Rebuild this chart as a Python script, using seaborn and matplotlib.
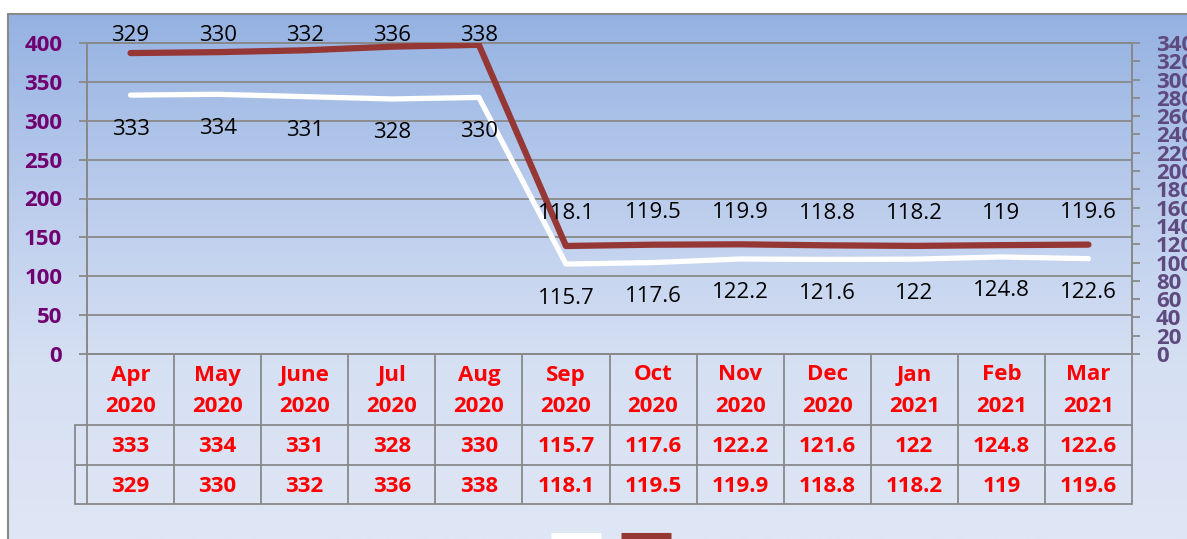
import numpy as np
import pandas as pd
import matplotlib
matplotlib.use("Agg")
import matplotlib.pyplot as plt
import seaborn as sns
from matplotlib.lines import Line2D
from matplotlib.colors import LinearSegmentedColormap

# ---------------- data ----------------
categories = ["Apr 2020", "May 2020", "June 2020", "Jul 2020", "Aug 2020", "Sep 2020",
              "Oct 2020", "Nov 2020", "Dec 2020", "Jan 2021", "Feb 2021", "Mar 2021"]
series_white = [333, 334, 331, 328, 330, 115.7, 117.6, 122.2, 121.6, 122, 124.8, 122.6]
series_red = [329, 330, 332, 336, 338, 118.1, 119.5, 119.9, 118.8, 118.2, 119, 119.6]
left_ticks = list(range(0, 401, 50))
right_ticks = list(range(0, 341, 20))

# ---------------- style ----------------
sns.set_theme(style="white")
plt.rcParams['font.family'] = ['Open Sans', 'DejaVu Sans']

W, H = 1187, 539
GRID = '#898989'
RED_LINE = '#953735'
BOLD_SIZE = 16
LABEL_SIZE = 16
fig = plt.figure(figsize=(W / 100, H / 100), dpi=100)
fig.patch.set_facecolor('white')

# background gradient of the chart area
bg = fig.add_axes([8 / W, 0, 1 - 8 / W, 1 - 14 / H], zorder=0)
grad = np.linspace(0, 1, 256).reshape(-1, 1)
cmap = LinearSegmentedColormap.from_list('bg', ['#95B2E2', '#B9CBEC', '#D6E0F3', '#DFE6F5'])
bg.imshow(grad, aspect='auto', cmap=cmap, extent=[0, 1, 0, 1], origin='upper')
bg.axis('off')
fig.add_artist(Line2D([8 / W, 8 / W], [0, 1 - 14 / H], transform=fig.transFigure, color=GRID, lw=1.5))
fig.add_artist(Line2D([8 / W, 1], [1 - 14 / H, 1 - 14 / H], transform=fig.transFigure, color=GRID, lw=1.5))

# ---------------- plot ----------------
ax = fig.add_axes([87 / W, (H - 354) / H, (1132 - 87) / W, (354 - 43) / H], zorder=2)
ax.patch.set_alpha(0)
df = pd.DataFrame({'x': np.arange(len(categories)), 'white': series_white, 'red': series_red})
sns.lineplot(data=df, x='x', y='white', ax=ax, color='white', lw=3.8, zorder=3,
             solid_capstyle='round')
ax.set_xlim(-0.5, len(categories) - 0.5)
ax.set_ylim(0, 400)
ax.set_xticks([])
ax.set_xlabel('')
ax.set_ylabel('')
ax.set_yticks(left_ticks, labels=[str(t) for t in left_ticks], fontweight='bold')
ax.yaxis.grid(True, color=GRID, lw=1.3)
ax.set_axisbelow(True)
ax.tick_params(axis='y', which='major', direction='out', length=5.8, width=1.3, color=GRID,
               pad=12, labelsize=BOLD_SIZE, labelcolor='#700070', left=True)
for s in ax.spines.values():
    s.set_color(GRID)
    s.set_linewidth(1.3)

ax2 = ax.twinx()
sns.lineplot(data=df, x='x', y='red', ax=ax2, color=RED_LINE, lw=4.5, zorder=3,
             solid_capstyle='round')
ax2.set_ylim(0, 340)
ax2.set_xlim(-0.5, len(categories) - 0.5)
ax2.set_ylabel('')
ax2.set_yticks(right_ticks, labels=[str(t) for t in right_ticks], fontweight='bold')
ax2.tick_params(axis='y', which='major', direction='out', length=5.8, width=1.3, color=GRID,
                pad=11.5, labelsize=BOLD_SIZE, labelcolor='#5E4A7E', right=True)
for s in ax2.spines.values():
    s.set_color(GRID)
    s.set_linewidth(1.3)

# data labels
fig.canvas.draw()
top_limit = H - 35.5
for i, v in enumerate(series_red):
    d = ax2.transData.transform((i, v))
    off = min(32, top_limit - d[1])
    ax2.annotate(f'{v:g}', (i, v), xytext=(0, off), textcoords='offset pixels',
                 ha='center', va='center', fontsize=LABEL_SIZE, color='black', zorder=5)
for i, v in enumerate(series_white):
    ax2.annotate(f'{v:g}', (i, v), xycoords=ax.transData, xytext=(0, -34),
                 textcoords='offset pixels', ha='center', va='center', fontsize=LABEL_SIZE,
                 color='black', zorder=5)

# ---------------- data table ----------------
tab = fig.add_axes([87 / W, (H - 504) / H, (1132 - 87) / W, (504 - 354) / H], zorder=3)
tab.set_xlim(-0.5, len(categories) - 0.5)
tab.set_ylim(504, 354)
tab.axis('off')
stub = 12 / ((1132 - 87) / len(categories))
n = len(categories)
for k in range(n + 1):
    tab.plot([k - 0.5, k - 0.5], [354, 504], color=GRID, lw=1.3, clip_on=False)
for yv in (425, 465, 504):
    tab.plot([-0.5 - stub, n - 0.5], [yv, yv], color=GRID, lw=1.3, clip_on=False)
tab.plot([-0.5 - stub, -0.5 - stub], [425, 504], color=GRID, lw=1.3, clip_on=False)

for i, cat in enumerate(categories):
    mon, yr = cat.split(' ')
    tab.text(i, 375, mon, ha='center', va='center', fontsize=BOLD_SIZE, fontweight='bold', color='#FF0000')
    tab.text(i, 406, yr, ha='center', va='center', fontsize=BOLD_SIZE, fontweight='bold', color='#FF0000')
    tab.text(i, 446, f'{series_white[i]:g}', ha='center', va='center', fontsize=BOLD_SIZE,
             fontweight='bold', color='#FF0000')
    tab.text(i, 486, f'{series_red[i]:g}', ha='center', va='center', fontsize=BOLD_SIZE,
             fontweight='bold', color='#FF0000')

# ---------------- legend (cut off at the bottom) ----------------
handles = [Line2D([], [], color='white', lw=8, solid_capstyle='butt'),
           Line2D([], [], color=RED_LINE, lw=8, solid_capstyle='butt')]
fig.legend(handles, ['', ''], loc='center', bbox_to_anchor=(611 / W, 0), ncol=2, frameon=False,
           fontsize=10, handlelength=3.6, handletextpad=0, columnspacing=1.37)

fig.savefig('out.png', dpi=100)
